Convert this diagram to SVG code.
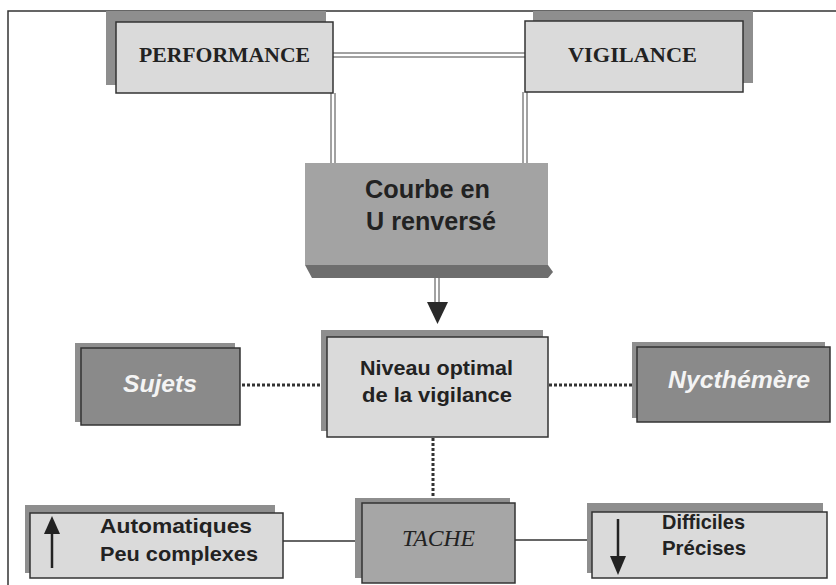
<svg xmlns="http://www.w3.org/2000/svg" width="836" height="585" viewBox="0 0 836 585">
<style>
.frame{fill:none;stroke:#333;stroke-width:1.5}
.shadow{fill:#8e8e8e}
.light{fill:#dadada;stroke:#333;stroke-width:1.5}
.dark{fill:#8a8a8a;stroke:#333;stroke-width:1.5}
.mid{fill:#a6a6a6;stroke:#333;stroke-width:1.5}
.dbl{fill:none;stroke:#444;stroke-width:1}
.dot{fill:none;stroke:#333;stroke-width:3;stroke-dasharray:3 2}
.solid{fill:none;stroke:#333;stroke-width:1.3}
.tserif{font-family:"Liberation Serif",serif;font-weight:bold;font-size:21px;fill:#222}
.tsans{font-family:"Liberation Sans",Arial,sans-serif;font-weight:bold;font-size:21px;fill:#222}
.tbig{font-family:"Liberation Sans",Arial,sans-serif;font-weight:bold;font-size:25px;fill:#222}
.twhite{font-family:"Liberation Sans",Arial,sans-serif;font-weight:bold;font-style:italic;font-size:24px;fill:#f4f4f4}
.titalic{font-family:"Liberation Serif",serif;font-style:italic;font-size:23px;fill:#222}
</style>
<rect x="0" y="0" width="836" height="585" fill="#ffffff"/>
<path class="frame" d="M8,585 V11 H836"/>
<g id="connectors">
  <path class="dbl" d="M333,53 H525 M333,57 H525"/>
  <path class="dbl" d="M331,93 V163 M335,93 V163"/>
  <path class="dbl" d="M523,92 V163 M527,92 V163"/>
  <path class="dbl" d="M435,278 V302 M439,278 V302"/>
  <polygon points="427,302 448,302 437.5,324" fill="#2a2a2a"/>
  <path class="dot" d="M242,385 H322"/>
  <path class="dot" d="M549,385 H632"/>
  <path class="dot" d="M433,438 V498"/>
  <path class="solid" d="M283,541 H355"/>
  <path class="solid" d="M515,540 H592"/>
</g>
<g id="performance">
  <rect class="shadow" x="106" y="11" width="220" height="74"/>
  <rect class="light" x="116" y="22" width="217" height="71"/>
  <text class="tserif" x="139" y="62" textLength="171" lengthAdjust="spacingAndGlyphs">PERFORMANCE</text>
</g>
<g id="vigilance">
  <rect class="shadow" x="533" y="11" width="220" height="72"/>
  <rect class="light" x="525" y="21" width="218" height="71"/>
  <text class="tserif" x="568" y="62" textLength="129" lengthAdjust="spacingAndGlyphs">VIGILANCE</text>
</g>
<g id="courbe">
  <polygon points="305,265 548,265 553,272 548,278 312,278" fill="#6e6e6e"/>
  <rect x="305" y="163" width="243" height="102" fill="#a3a3a3"/>
  <text class="tbig" x="365" y="198" textLength="125" lengthAdjust="spacingAndGlyphs">Courbe en</text>
  <text class="tbig" x="366" y="230" textLength="130" lengthAdjust="spacingAndGlyphs">U renversé</text>
</g>
<g id="niveau">
  <rect class="shadow" x="321" y="330" width="222" height="101"/>
  <rect class="light" x="327" y="337" width="221" height="100"/>
  <text class="tsans" x="360" y="375" textLength="153" lengthAdjust="spacingAndGlyphs">Niveau optimal</text>
  <text class="tsans" x="362" y="402" textLength="150" lengthAdjust="spacingAndGlyphs">de la vigilance</text>
</g>
<g id="sujets">
  <rect class="shadow" x="75" y="343" width="160" height="79"/>
  <rect class="dark" x="81" y="348" width="159" height="77"/>
  <text class="twhite" x="123" y="392" textLength="74" lengthAdjust="spacingAndGlyphs">Sujets</text>
</g>
<g id="nycthemere">
  <rect class="shadow" x="632" y="342" width="193" height="76"/>
  <rect class="dark" x="637" y="347" width="193" height="75"/>
  <text class="twhite" x="668" y="388" textLength="142" lengthAdjust="spacingAndGlyphs">Nycthémère</text>
</g>
<g id="tache">
  <rect class="shadow" x="355" y="498" width="155" height="80"/>
  <rect class="mid" x="362" y="503" width="153" height="80"/>
  <text class="titalic" x="402" y="546" textLength="73" lengthAdjust="spacingAndGlyphs">TACHE</text>
</g>
<g id="automatiques">
  <rect class="shadow" x="25" y="505" width="250" height="68"/>
  <rect class="light" x="30" y="513" width="253" height="65"/>
  <path d="M52,568 V532" stroke="#222" stroke-width="2.5"/>
  <polygon points="44,534 60,534 52,516" fill="#222"/>
  <text class="tsans" x="100" y="533" textLength="152" lengthAdjust="spacingAndGlyphs">Automatiques</text>
  <text class="tsans" x="100" y="561" textLength="158" lengthAdjust="spacingAndGlyphs">Peu complexes</text>
</g>
<g id="difficiles">
  <rect class="shadow" x="587" y="503" width="236" height="70"/>
  <rect class="light" x="592" y="512" width="235" height="66"/>
  <path d="M618,519 V558" stroke="#222" stroke-width="2.5"/>
  <polygon points="610,556 626,556 618,575" fill="#222"/>
  <text class="tsans" x="662" y="529" textLength="83" lengthAdjust="spacingAndGlyphs">Difficiles</text>
  <text class="tsans" x="662" y="555" textLength="84" lengthAdjust="spacingAndGlyphs">Précises</text>
</g>
</svg>
